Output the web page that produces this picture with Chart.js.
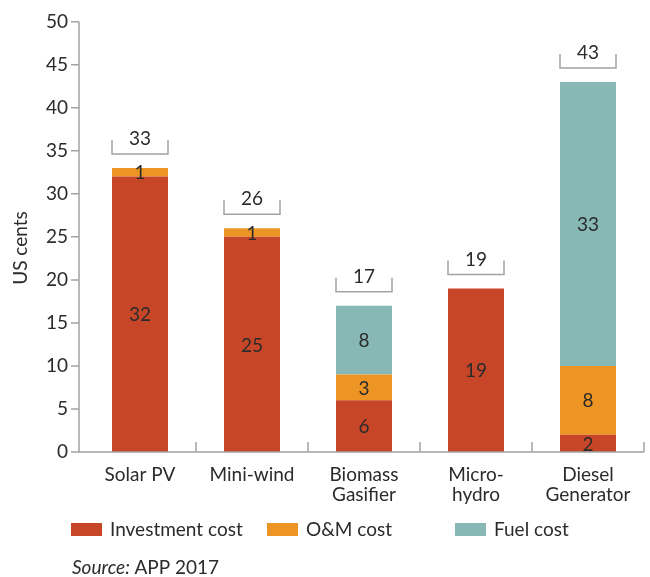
<!DOCTYPE html>
<html>
<head>
<meta charset="utf-8">
<script src="https://cdn.jsdelivr.net/npm/chart.js@4.4.1/dist/chart.umd.min.js"></script>
<style>
  html, body { margin: 0; padding: 0; background: #fff; }
  #wrap { width: 650px; height: 577px; }
</style>
</head>
<body>
<div id="wrap"><canvas id="costChart" width="650" height="577"></canvas></div>
<script>
const technologies = [["Solar PV"], ["Mini-wind"], ["Biomass", "Gasifier"], ["Micro-", "hydro"], ["Diesel", "Generator"]];
const investmentCost = [32, 25, 6, 19, 2];
const omCost = [1, 1, 3, 0, 8];
const fuelCost = [0, 0, 8, 0, 33];

const FONT = "Lato, 'Open Sans', sans-serif";
const TEXT = "#2b2b2b";
const AXIS = "#a3a3a3";

const legendX = [71, 267, 455];

// axes, brackets with totals, segment values, legend and source line
const extras = {
  id: "extras",
  afterDatasetsDraw(chart) {
    const c = chart.ctx;
    const area = chart.chartArea;
    const y = chart.scales.y;
    const axisX = area.left - 5;

    c.save();
    c.strokeStyle = AXIS;
    c.lineWidth = 1.5;
    c.beginPath();
    c.moveTo(axisX, y.getPixelForValue(50));
    c.lineTo(axisX, area.bottom);
    c.lineTo(area.right, area.bottom);
    y.ticks.forEach(t => {
      const py = y.getPixelForValue(t.value);
      c.moveTo(axisX - 8, py);
      c.lineTo(axisX, py);
    });
    const step = (area.right - area.left) / technologies.length;
    for (let i = 1; i <= technologies.length; i++) {
      const px = area.left + step * i;
      c.moveTo(px, area.bottom - 10);
      c.lineTo(px, area.bottom);
    }
    c.stroke();

    // value labels inside segments
    c.fillStyle = TEXT;
    c.font = "19px " + FONT;
    c.textAlign = "center";
    c.textBaseline = "middle";
    chart.data.datasets.forEach((ds, di) => {
      chart.getDatasetMeta(di).data.forEach((bar, i) => {
        const v = ds.data[i];
        if (!v) return;
        c.fillText(String(v), bar.x, (bar.y + bar.base) / 2 + 1);
      });
    });

    // brackets with totals
    const bars = chart.getDatasetMeta(0).data;
    technologies.forEach((_, i) => {
      const total = investmentCost[i] + omCost[i] + fuelCost[i];
      const top = y.getPixelForValue(total);
      const b = bars[i];
      const half = b.width / 2;
      const ly = top - 14;
      c.strokeStyle = AXIS;
      c.lineWidth = 1.5;
      c.beginPath();
      c.moveTo(b.x - half, ly - 14);
      c.lineTo(b.x - half, ly);
      c.lineTo(b.x + half, ly);
      c.lineTo(b.x + half, ly - 14);
      c.stroke();
      c.fillStyle = TEXT;
      c.fillText(String(total), b.x, ly - 15);
    });

    // y axis title
    c.save();
    c.translate(21, 248);
    c.rotate(-Math.PI / 2);
    c.fillText("US cents", 0, 0);
    c.restore();

    // legend
    c.textAlign = "left";
    chart.data.datasets.forEach((ds, di) => {
      const lx = legendX[di];
      c.fillStyle = ds.backgroundColor;
      c.fillRect(lx, 523, 31, 13);
      c.fillStyle = TEXT;
      c.fillText(ds.label, lx + 39, 530);
    });

    // source
    c.font = "italic 19px " + FONT;
    c.fillText("Source:", 72, 568);
    const w = c.measureText("Source: ").width;
    c.font = "19px " + FONT;
    c.fillText("APP 2017", 72 + w, 568);
    c.restore();
  }
};

new Chart(document.getElementById("costChart"), {
  type: "bar",
  data: {
    labels: technologies,
    datasets: [
      { label: "Investment cost", data: investmentCost, backgroundColor: "#c84628" },
      { label: "O&M cost", data: omCost, backgroundColor: "#ec9524" },
      { label: "Fuel cost", data: fuelCost, backgroundColor: "#88b8b6" },
    ],
  },
  options: {
    responsive: false,
    animation: false,
    layout: { padding: { top: 20, right: 6, left: 0, bottom: 0 } },
    categoryPercentage: 1,
    barPercentage: 0.5,
    plugins: { legend: { display: false }, tooltip: { enabled: false } },
    scales: {
      x: {
        stacked: true,
        grid: { display: false, drawTicks: false },
        border: { display: false },
        ticks: { color: TEXT, font: { family: FONT, size: 19, lineHeight: 1.1 }, padding: 12, maxRotation: 0, autoSkip: false },
        afterFit: s => { s.height = 125; },
      },
      y: {
        stacked: true,
        min: 0,
        max: 50,
        grid: { display: false, drawTicks: false },
        border: { display: false },
        ticks: { stepSize: 5, color: TEXT, font: { family: FONT, size: 19, lineHeight: 0.6 }, padding: 16 },
        afterFit: s => { s.width = 84; },
      },
    },
  },
  plugins: [extras],
});
</script>
</body>
</html>
